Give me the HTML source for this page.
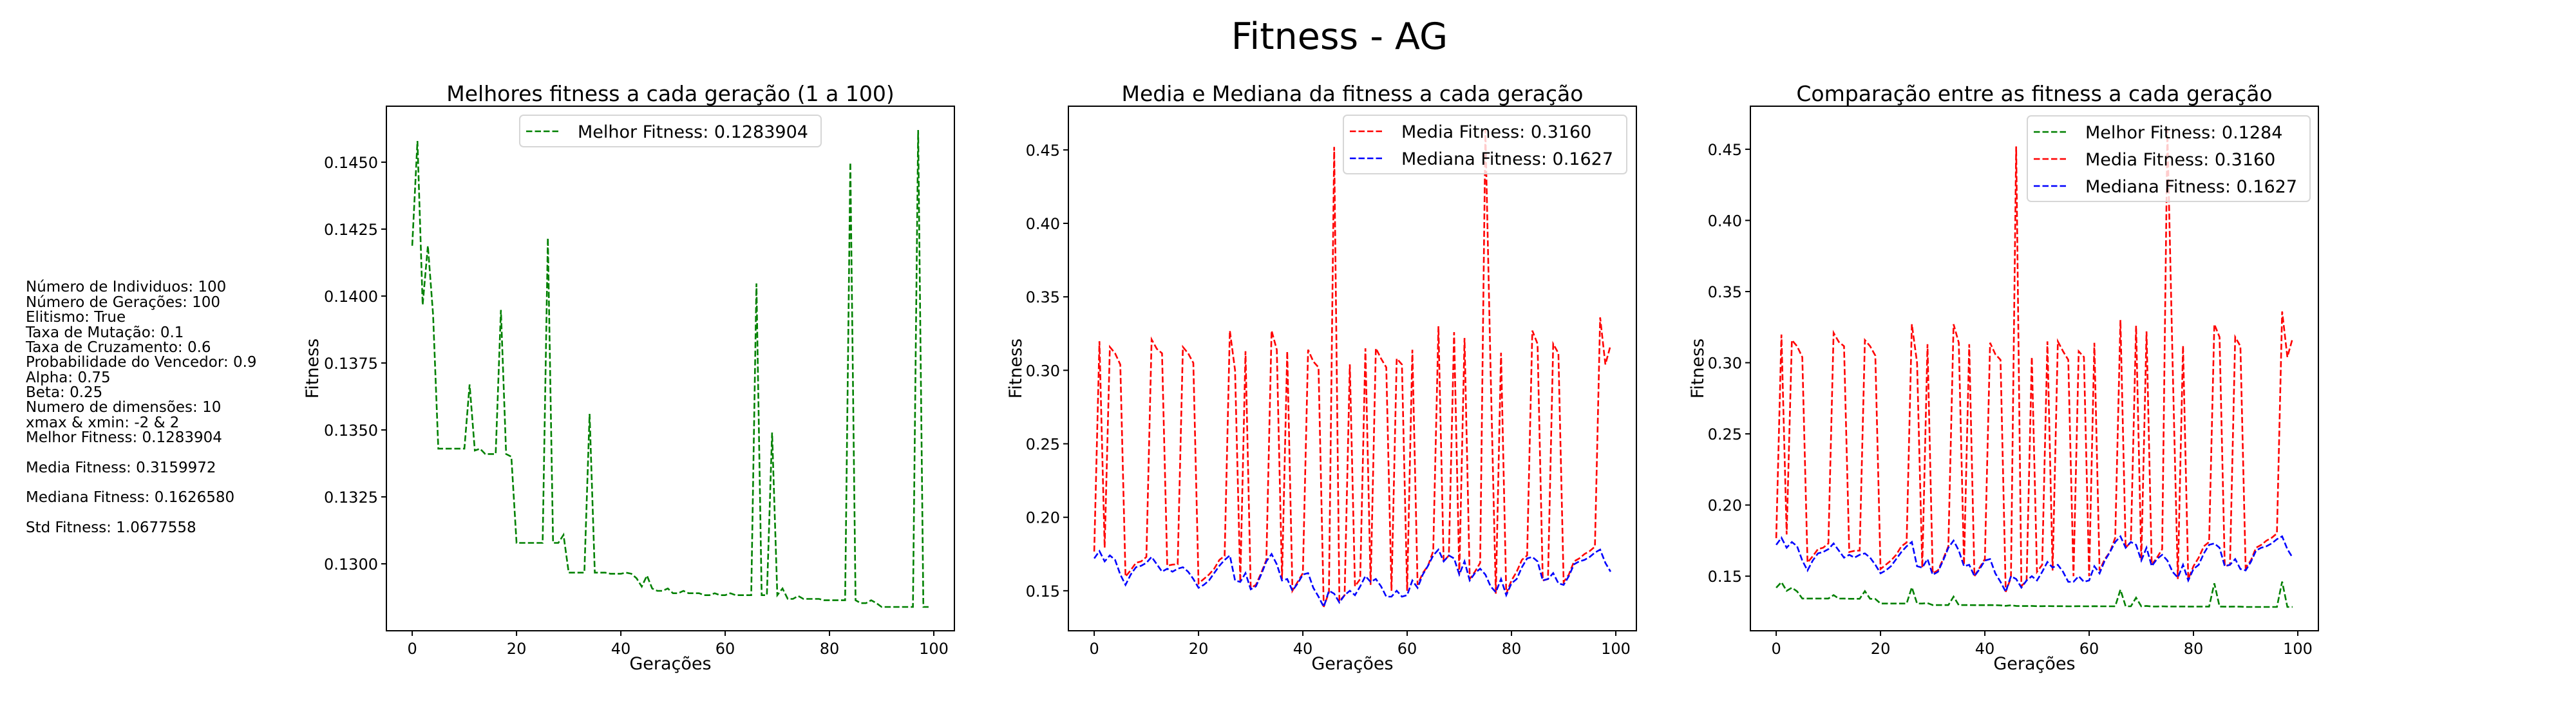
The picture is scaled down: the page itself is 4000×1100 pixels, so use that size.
<!DOCTYPE html>
<html><head><meta charset="utf-8"><style>
html,body{margin:0;padding:0;background:#fff;}
svg{display:block;font-family:"DejaVu Sans","Liberation Sans",sans-serif;}
</style></head><body>
<svg id="fig" width="4000" height="1100" viewBox="0 0 4000 1100" xmlns="http://www.w3.org/2000/svg">
<rect width="4000" height="1100" fill="#fff"/>
<text x="2080" y="76" font-size="57" text-anchor="middle">Fitness - AG</text>
<g font-size="23">
<text x="40" y="453">Número de Individuos: 100</text>
<text x="40" y="477">Número de Gerações: 100</text>
<text x="40" y="500">Elitismo: True</text>
<text x="40" y="524">Taxa de Mutação: 0.1</text>
<text x="40" y="547">Taxa de Cruzamento: 0.6</text>
<text x="40" y="570">Probabilidade do Vencedor: 0.9</text>
<text x="40" y="594">Alpha: 0.75</text>
<text x="40" y="617">Beta: 0.25</text>
<text x="40" y="640">Numero de dimensões: 10</text>
<text x="40" y="664">xmax &amp; xmin: -2 &amp; 2</text>
<text x="40" y="687">Melhor Fitness: 0.1283904</text>
<text x="40" y="734">Media Fitness: 0.3159972</text>
<text x="40" y="780">Mediana Fitness: 0.1626580</text>
<text x="40" y="827">Std Fitness: 1.0677558</text>
</g>
</svg>
<script>
const generations = Array.from({length:100},(_, i)=>i);
const bestFitness = [0.14188,0.14579,0.13967,0.14188,0.1393,0.1343,0.1343,0.1343,0.1343,0.1343,0.1343,0.1367,0.13423,0.1343,0.1341,0.1341,0.1341,0.13948,0.1341,0.1340,
0.13078,0.13078,0.13078,0.13078,0.13078,0.13078,0.14217,0.13078,0.13078,0.13108,0.12967,0.12967,0.12967,0.12967,0.1356,0.12967,0.12967,0.12967,0.12963,0.12963,
0.12963,0.12967,0.12963,0.12946,0.12915,0.12956,0.12908,0.12899,0.12899,0.12908,0.1289,0.1289,0.12899,0.1289,0.1289,0.1289,0.12883,0.12883,0.1289,0.12883,
0.12883,0.1289,0.12883,0.12883,0.12883,0.12883,0.14047,0.12883,0.12883,0.1349,0.12883,0.12908,0.12869,0.12869,0.1288,0.12869,0.12869,0.12869,0.12869,0.12864,
0.12864,0.12864,0.12864,0.12864,0.14499,0.12864,0.12853,0.12853,0.12864,0.12853,0.12839,0.12839,0.12839,0.12839,0.12839,0.12839,0.12839,0.1462,0.12839,0.12839];
const meanFitness = [0.1767,0.3198,0.1793,0.3159,0.3116,0.3039,0.1596,0.164,0.169,0.170,0.173,0.321,0.3146,0.3116,0.167,0.1678,0.168,0.3159,0.3116,0.305,
0.155,0.158,0.161,0.165,0.171,0.1737,0.327,0.300,0.156,0.313,0.152,0.154,0.162,0.171,0.327,0.314,0.158,0.313,0.150,0.156,
0.162,0.314,0.306,0.302,0.139,0.149,0.452,0.143,0.147,0.304,0.153,0.158,0.315,0.154,0.315,0.308,0.302,0.150,0.308,0.304,
0.150,0.314,0.154,0.162,0.167,0.177,0.330,0.170,0.174,0.326,0.161,0.322,0.158,0.163,0.169,0.4635,0.300,0.148,0.312,0.148,
0.157,0.163,0.171,0.174,0.327,0.318,0.157,0.158,0.318,0.3116,0.156,0.161,0.170,0.172,0.175,0.177,0.180,0.336,0.304,0.317];
const medianFitness = [0.172,0.177,0.170,0.174,0.171,0.161,0.154,0.161,0.166,0.167,0.169,0.173,0.168,0.163,0.165,0.163,0.165,0.166,0.163,0.158,
0.152,0.154,0.157,0.162,0.167,0.171,0.174,0.157,0.156,0.162,0.151,0.153,0.161,0.170,0.175,0.168,0.157,0.158,0.150,0.155,
0.161,0.162,0.152,0.146,0.139,0.150,0.148,0.142,0.147,0.150,0.147,0.153,0.160,0.156,0.158,0.153,0.146,0.146,0.150,0.146,
0.147,0.157,0.152,0.161,0.167,0.174,0.178,0.170,0.174,0.172,0.161,0.170,0.157,0.162,0.165,0.161,0.153,0.149,0.158,0.147,
0.155,0.158,0.166,0.172,0.173,0.170,0.157,0.158,0.162,0.155,0.154,0.160,0.168,0.170,0.171,0.173,0.176,0.178,0.169,0.163];
const xTicks = [0,20,40,60,80,100];
const yTicks1 = [0.1300,0.1325,0.1350,0.1375,0.1400,0.1425,0.1450];
const yTicks2 = [0.15,0.20,0.25,0.30,0.35,0.40,0.45];

const NS = "http://www.w3.org/2000/svg";
const fig = document.getElementById('fig');
function mk(tag, attrs, parent){
  const e = document.createElementNS(NS, tag);
  for (const k in attrs) e.setAttribute(k, attrs[k]);
  (parent||fig).appendChild(e);
  return e;
}
const TOP=165, BOT=980;

function drawChart(idx, left, title, series, yTicks, dec, legend){
  const W=882, right=left+W;
  const g = mk('g',{});
  
  
  let all=[]; series.forEach(s=>all=all.concat(s.values));
  const mn=Math.min(...all), mx=Math.max(...all), pad=(mx-mn)*0.05;
  const y0=mn-pad, y1=mx+pad;
  const x0=-4.95, x1=103.95;
  const sx=v=>left+(v-x0)/(x1-x0)*W;
  const sy=v=>BOT-(v-y0)/(y1-y0)*(BOT-TOP);
  const t = mk('text',{x:left+W/2,y:157,'font-size':33,'text-anchor':'middle'},g);
  t.textContent=title;
  
  
  xTicks.forEach(v=>{
    const x=sx(v);
    mk('line',{x1:x,x2:x,y1:BOT,y2:BOT+8,stroke:'#000','stroke-width':2},g);
    const tl=mk('text',{x:x,y:BOT+36,'font-size':24,'text-anchor':'middle'},g);
    tl.textContent=v;
    
    
  });
  yTicks.forEach(v=>{
    const y=sy(v);
    mk('line',{x1:left-8,x2:left,y1:y,y2:y,stroke:'#000','stroke-width':2},g);
    const tl=mk('text',{x:left-13,y:y+9,'font-size':24,'text-anchor':'end'},g);
    tl.textContent=v.toFixed(dec);
    
    
  });
  const xl=mk('text',{x:left+W/2,y:1040,'font-size':27,'text-anchor':'middle'},g);
  xl.textContent='Gerações';
  
  
  const yx = dec===4 ? left-106 : left-73;
  const yl=mk('text',{x:yx,y:(TOP+BOT)/2,'font-size':27,'text-anchor':'middle',transform:`rotate(-90 ${yx} ${(TOP+BOT)/2})`},g);
  yl.textContent='Fitness';
  
  
  const cid='clip'+idx;
  const cp=mk('clipPath',{id:cid},g);
  mk('rect',{x:left,y:TOP,width:W,height:BOT-TOP},cp);
  series.forEach(s=>{
    const d=s.values.map((v,i)=>(i?'L':'M')+sx(generations[i]).toFixed(1)+','+sy(v).toFixed(1)).join('');
    const p=mk('path',{d:d,fill:'none',stroke:s.color,'stroke-width':2.6,'stroke-dasharray':'9.5,4','clip-path':`url(#${cid})`},g);
    
    
  });
  const fr=mk('rect',{x:left,y:TOP,width:W,height:BOT-TOP,fill:'none',stroke:'#000','stroke-width':2},g);
  
  
  const lg=mk('g',{},g);
  
  
  mk('rect',{x:legend.x,y:legend.y,width:legend.w,height:legend.h,rx:6,fill:'#fff','fill-opacity':0.8,stroke:'#d6d6d6','stroke-width':2},lg);
  legend.items.forEach((it,k)=>{
    const yy=legend.y+25+k*42;
    mk('line',{x1:legend.x+10,x2:legend.x+63,y1:yy,y2:yy,stroke:it.color,'stroke-width':2.6,'stroke-dasharray':'9.5,4'},lg);
    const tx=mk('text',{x:legend.x+90,y:yy+10,'font-size':27},lg);
    tx.textContent=it.label;
    
    
  });
}

drawChart(1,600,'Melhores fitness a cada geração (1 a 100)',
  [{values:bestFitness,color:'#008000',name:'best-fitness-line'}], yTicks1, 4,
  {x:807,y:179,w:468,h:49,items:[{color:'#008000',label:'Melhor Fitness: 0.1283904'}]});
drawChart(2,1659,'Media e Mediana da fitness a cada geração',
  [{values:meanFitness,color:'#ff0000',name:'mean-fitness-line'},{values:medianFitness,color:'#0000ff',name:'median-fitness-line'}], yTicks2, 2,
  {x:2086,y:179,w:440,h:91,items:[{color:'#ff0000',label:'Media Fitness: 0.3160'},{color:'#0000ff',label:'Mediana Fitness: 0.1627'}]});
drawChart(3,2718,'Comparação entre as fitness a cada geração',
  [{values:bestFitness,color:'#008000',name:'best-fitness-line'},{values:meanFitness,color:'#ff0000',name:'mean-fitness-line'},{values:medianFitness,color:'#0000ff',name:'median-fitness-line'}], yTicks2, 2,
  {x:3148,y:180,w:439,h:133,items:[{color:'#008000',label:'Melhor Fitness: 0.1284'},{color:'#ff0000',label:'Media Fitness: 0.3160'},{color:'#0000ff',label:'Mediana Fitness: 0.1627'}]});
</script>
</body></html>
